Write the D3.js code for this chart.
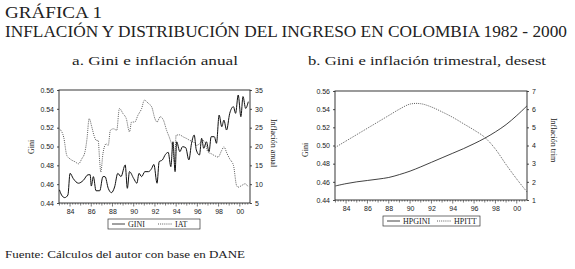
<!DOCTYPE html>
<html>
<head>
<meta charset="utf-8">
<script src="https://cdn.jsdelivr.net/npm/d3@7"></script>
<style>
  body { margin: 0; background: #fff; }
  svg { display: block; font-family: "Liberation Serif", "DejaVu Serif", serif; }
  .tick text { font-size: 7px; fill: #222; }
  .domain, .tick line { stroke: #222; stroke-width: 0.8; }
</style>
</head>
<body>
<div id="chart"></div>
<script>
// a. Gini (trimestral) e inflación anual
const giniYears = [1983.0,1983.2,1983.5,1983.8,1984.0,1984.3,1984.8,1985.25,1985.7,1985.9,1986.0,1986.2,1986.45,1986.8,1987.1,1987.3,1987.6,1987.9,1988.2,1988.5,1988.8,1989.2,1989.4,1989.6,1990.0,1990.3,1990.5,1990.75,1991.05,1991.4,1991.7,1991.9,1992.2,1992.4,1992.7,1993.0,1993.25,1993.5,1993.7,1993.9,1994.05,1994.35,1994.6,1994.9,1995.2,1995.45,1995.7,1995.9,1996.2,1996.4,1996.6,1996.85,1997.1,1997.3,1997.6,1997.8,1998.05,1998.3,1998.5,1998.75,1999.05,1999.4,1999.6,1999.85,2000.1,2000.3,2000.55,2000.8];
const giniVals  = [0.454,0.4485,0.4457,0.4485,0.4715,0.466,0.461,0.464,0.470,0.470,0.458,0.468,0.453,0.453,0.468,0.468,0.4556,0.451,0.457,0.4715,0.468,0.4804,0.4556,0.4733,0.466,0.461,0.4715,0.468,0.4733,0.4733,0.4768,0.481,0.461,0.4839,0.4857,0.4917,0.4938,0.4786,0.505,0.4733,0.505,0.4945,0.4998,0.4988,0.4857,0.5034,0.5122,0.4963,0.491,0.5087,0.4981,0.505,0.4945,0.5104,0.5104,0.5034,0.5334,0.521,0.528,0.5175,0.5352,0.5423,0.5352,0.5547,0.5317,0.553,0.5405,0.5476];
const iatYears = [1983.0,1983.4,1983.7,1984.0,1984.5,1984.8,1985.1,1985.4,1985.6,1985.8,1986.05,1986.25,1986.5,1986.65,1986.8,1986.9,1987.1,1987.4,1987.6,1987.8,1988.1,1988.4,1988.65,1989.0,1989.3,1989.6,1989.8,1990.1,1990.4,1990.75,1991.0,1991.4,1991.7,1992.0,1992.2,1992.5,1992.8,1993.1,1993.4,1993.7,1993.85,1994.0,1994.3,1994.7,1995.0,1995.3,1995.65,1995.9,1996.2,1996.5,1996.7,1997.0,1997.3,1997.6,1997.95,1998.3,1998.5,1998.8,1999.05,1999.4,1999.7,1999.85,2000.15,2000.5,2000.8];
const iatVals  = [24.7,22.5,17.6,16.7,15.9,15.4,16.7,18.5,22.1,27.4,25.2,23.0,21.6,21.6,15.9,13.2,18.1,20.7,20.3,24.3,24.7,24.3,30.1,28.7,27.4,23.9,26.5,26.5,28.3,30.1,32.3,31.4,30.5,27.4,26.5,27.9,27.0,24.3,22.1,19.0,15.9,23.0,23.1,22.5,22.1,21.6,21.2,20.3,20.7,21.6,21.2,18.5,18.1,17.6,17.2,19.0,19.9,18.1,16.7,15.0,9.6,9.2,9.6,10.1,9.2];

// b. Gini e inflación trimestral, desestacionalizadas (filtro HP)
const hpYears   = [1983.0,1984.0,1985.0,1986.0,1987.0,1988.0,1989.0,1990.0,1991.0,1992.0,1993.0,1994.0,1995.0,1996.0,1997.0,1998.0,1999.0,2000.0,2000.95];
const hpGiniVals = [0.4555,0.4580,0.4600,0.4615,0.4630,0.4648,0.4680,0.4718,0.4765,0.4815,0.4865,0.4915,0.4965,0.5020,0.5080,0.5150,0.5230,0.5330,0.5435];
const hpittVals  = [3.90,4.25,4.60,4.95,5.30,5.65,6.00,6.28,6.30,6.12,5.85,5.55,5.20,4.85,4.45,3.80,2.95,2.15,1.45];

const xDomain = [1982.96, 2000.96];
const labelYears = [1984,1986,1988,1990,1992,1994,1996,1998,2000];
const giniTicks = [0.44,0.46,0.48,0.50,0.52,0.54,0.56];
const iatTicks = [5,10,15,20,25,30,35];
const hpittTicks = [1,2,3,4,5,6,7];

const W = 575, H = 269;
const svg = d3.select("#chart").append("svg").attr("width", W).attr("height", H);

// títulos
svg.append("text").attr("x", 5).attr("y", 18).attr("font-size", 16).attr("fill", "#222")
  .attr("textLength", 97).attr("lengthAdjust", "spacingAndGlyphs")
  .text("GRÁFICA 1");
svg.append("text").attr("x", 5).attr("y", 37).attr("font-size", 16).attr("fill", "#222")
  .attr("textLength", 562).attr("lengthAdjust", "spacingAndGlyphs")
  .text("INFLACIÓN Y DISTRIBUCIÓN DEL INGRESO EN COLOMBIA 1982 - 2000");
svg.append("text").attr("x", 72).attr("y", 65).attr("font-size", 12.5).attr("fill", "#222")
  .attr("textLength", 166).attr("lengthAdjust", "spacingAndGlyphs")
  .text("a. Gini e inflación anual");
svg.append("text").attr("x", 308).attr("y", 65).attr("font-size", 12.5).attr("fill", "#222")
  .attr("textLength", 238).attr("lengthAdjust", "spacingAndGlyphs")
  .text("b. Gini e inflación trimestral, desest");
svg.append("text").attr("x", 5).attr("y", 258).attr("font-size", 11).attr("fill", "#222")
  .attr("textLength", 240).attr("lengthAdjust", "spacingAndGlyphs")
  .text("Fuente: Cálculos del autor con base en DANE");

function panel(o) {
  const x = d3.scaleLinear().domain(xDomain).range([o.x0, o.x1]);
  const yL = d3.scaleLinear().domain([0.44, 0.56]).range([o.y1, o.y0]);
  const yR = d3.scaleLinear().domain(o.rDomain).range([o.y1, o.y0]);
  const g = svg.append("g");

  // marco
  g.append("rect").attr("x", o.x0).attr("y", o.y0)
    .attr("width", o.x1 - o.x0).attr("height", o.y1 - o.y0)
    .attr("fill", "none").attr("stroke", "#222").attr("stroke-width", 0.9);

  // eje x: marcas trimestrales, anuales y etiquetas bienales
  const quarters = d3.range(1983, 2001, 0.25);
  g.append("g").selectAll("line").data(quarters).join("line")
    .attr("x1", d => x(d)).attr("x2", d => x(d))
    .attr("y1", o.y1).attr("y2", d => o.y1 + (Number.isInteger(d) ? (d % 2 === 0 ? 3.5 : 2.5) : 1.6))
    .attr("stroke", "#222").attr("stroke-width", 0.6);
  g.append("g").attr("transform", `translate(0,${o.y1})`)
    .call(d3.axisBottom(x).tickValues(labelYears).tickSize(0).tickPadding(6)
      .tickFormat(d => String(d).slice(2)))
    .select(".domain").remove();

  const axL = g.append("g").attr("transform", `translate(${o.x0},0)`)
    .call(d3.axisLeft(yL).tickValues(giniTicks).tickSize(2).tickPadding(3).tickFormat(d3.format(".2f")));
  axL.select(".domain").remove();
  const axR = g.append("g").attr("transform", `translate(${o.x1},0)`)
    .call(d3.axisRight(yR).tickValues(o.rTicks).tickSize(2).tickPadding(3).tickFormat(d3.format("d")));
  axR.select(".domain").remove();

  // títulos de ejes
  g.append("text").attr("transform", `translate(${o.lx},${o.ly}) rotate(-90)`)
    .attr("text-anchor", "middle").attr("font-size", 8).attr("fill", "#222").text("Gini");
  g.append("text").attr("transform", `translate(${o.rx},${o.ry}) rotate(90)`)
    .attr("text-anchor", "middle").attr("font-size", 8).attr("fill", "#222").text(o.rLabel);

  // series
  const lineL = d3.line().x(d => x(d[0])).y(d => yL(d[1])).curve(o.curve);
  const lineR = d3.line().x(d => x(d[0])).y(d => yR(d[1])).curve(o.curve);
  g.append("path").datum(d3.zip(o.dotYears, o.dotVals)).attr("d", lineR)
    .attr("fill", "none").attr("stroke", "#333").attr("stroke-width", 0.8)
    .attr("stroke-dasharray", "1,1.1");
  g.append("path").datum(d3.zip(o.solYears, o.solVals)).attr("d", lineL)
    .attr("fill", "none").attr("stroke", "#111").attr("stroke-width", o.solW);

  // leyenda
  const lg = g.append("g");
  lg.append("rect").attr("x", o.lgX).attr("y", o.lgY).attr("width", o.lgW).attr("height", 10)
    .attr("fill", "none").attr("stroke", "#333").attr("stroke-width", 0.7);
  const my = o.lgY + 5;
  lg.append("line").attr("x1", o.lgX + 4).attr("x2", o.lgX + 17).attr("y1", my).attr("y2", my)
    .attr("stroke", "#111").attr("stroke-width", 0.8);
  lg.append("text").attr("x", o.lgX + 20).attr("y", my + 2.7).attr("font-size", 8).attr("fill", "#222")
    .text(o.names[0]);
  lg.append("line").attr("x1", o.lgX + o.lgMid).attr("x2", o.lgX + o.lgMid + 14).attr("y1", my).attr("y2", my)
    .attr("stroke", "#333").attr("stroke-width", 0.8).attr("stroke-dasharray", "1,1.1");
  lg.append("text").attr("x", o.lgX + o.lgMid + 17).attr("y", my + 2.7).attr("font-size", 8).attr("fill", "#222")
    .text(o.names[1]);
}

panel({
  x0: 59, x1: 250, y0: 90, y1: 203, rDomain: [5, 35], rTicks: iatTicks,
  rLabel: "Inflación anual", lx: 34, ly: 147, rx: 271, ry: 143,
  solYears: giniYears, solVals: giniVals, dotYears: iatYears, dotVals: iatVals,
  curve: d3.curveMonotoneX, solW: 1,
  lgX: 108, lgY: 219, lgW: 92, lgMid: 50, names: ["GINI", "IAT"]
});
panel({
  x0: 335, x1: 527, y0: 91, y1: 200, rDomain: [1, 7], rTicks: hpittTicks,
  rLabel: "Inflación trim", lx: 308, ly: 150, rx: 551, ry: 140,
  solYears: hpYears, solVals: hpGiniVals, dotYears: hpYears, dotVals: hpittVals,
  curve: d3.curveCatmullRom, solW: 0.8,
  lgX: 383, lgY: 216, lgW: 97, lgMid: 54, names: ["HPGINI", "HPITT"]
});
</script>
</body>
</html>
